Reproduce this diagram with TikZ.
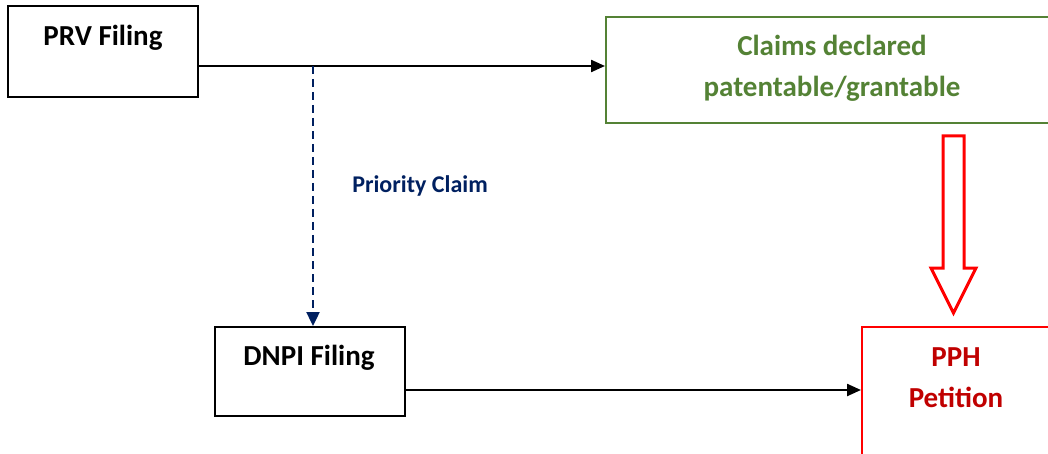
\documentclass[tikz,border=0pt]{standalone}
\usepackage{fontspec}
\setmainfont{Carlito}
\usetikzlibrary{arrows.meta}
\definecolor{navy}{HTML}{002060}
\definecolor{grn}{HTML}{548235}
\definecolor{dred}{HTML}{C00000}
\begin{document}
\begin{tikzpicture}[x=1pt,y=-1pt,
  box/.style={draw,line width=1.6pt,minimum width=190pt,minimum height=91pt,anchor=north west,inner sep=0pt},
  lbl/.style={font=\bfseries\fontsize{29}{41}\selectfont,align=center},
  conn/.style={line width=2.3pt,-{Triangle[length=14pt,width=12pt]}}]
\useasboundingbox (0,0) rectangle (1048,454);
\node[box] (prv) at (7,5) {};
\node[lbl] (prvt) at (103,38) {PRV Filing};
\node[box,draw=grn,minimum width=460pt,minimum height=106pt] (cl) at (605,16) {};
\node[lbl,text=grn] (clt) at (832,68) {Claims declared\\patentable/grantable};
\node[box,minimum width=190pt,minimum height=89pt] (dn) at (214,326) {};
\node[lbl] (dnt) at (309,358) {DNPI Filing};
\node[box,draw=red,minimum width=200pt,minimum height=140pt] (pph) at (861,326) {};
\node[lbl,text=dred] (ppht) at (956,378) {PPH\\Petition};
\node[font=\bfseries\fontsize{24}{26}\selectfont,text=navy] (pc) at (420,186) {Priority Claim};
\coordinate (prvout) at (prv.east |- 0,66);
\coordinate (split) at (313,66);
\draw[conn] (prvout) -- (cl.west |- prvout);
\draw[line width=2.4pt,navy,dash pattern=on 8pt off 5pt,-{Triangle[length=14pt,width=13pt]}] (split) -- (split |- dn.north);
\coordinate (dnout) at (dn.east |- 0,390);
\draw[conn] (dnout) -- (pph.west |- dnout);
\draw[red,line width=3pt,fill=white,line join=miter]
  (943,136) -- (964,136) -- (964,268) -- (976,268) -- (953.5,313) -- (931,268) -- (943,268) -- cycle;
\end{tikzpicture}
\end{document}
